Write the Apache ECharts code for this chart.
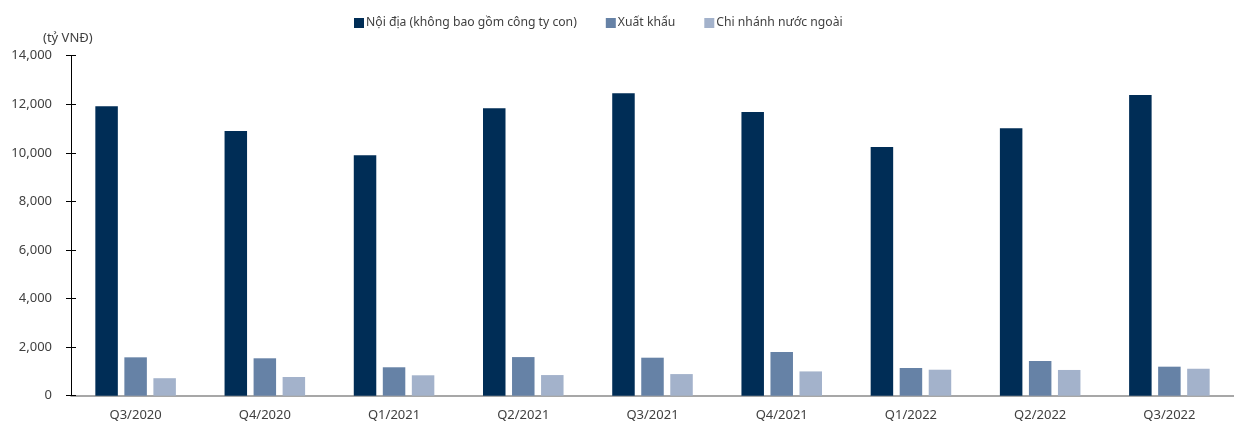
<!DOCTYPE html>
<html>
<head>
<meta charset="utf-8">
<title>Doanh thu theo thị trường</title>
<script src="https://cdn.jsdelivr.net/npm/echarts@6/dist/echarts.min.js"></script>
<style>
    html,body{margin:0;padding:0;background:#fff;}
    #chart{width:1234px;height:423px;}
</style>
</head>
<body>
<div id="chart"></div>
<script>
// số liệu theo quý (tỷ VNĐ)
var quarters = ['Q3/2020','Q4/2020','Q1/2021','Q2/2021','Q3/2021','Q4/2021','Q1/2022','Q2/2022','Q3/2022'];
var noiDia = [11920,10900,9900,11840,12450,11680,10240,11010,12380];
var xuatKhau = [1580,1540,1170,1590,1565,1800,1140,1430,1195];
var chiNhanh = [720,770,840,850,890,1000,1070,1060,1110];
var yTicks = [0,2000,4000,6000,8000,10000,12000,14000];

var seriesNames = ['Nội địa (không bao gồm công ty con)','Xuất khẩu','Chi nhánh nước ngoài'];
var colors = ['#002d56','#6682a6','#a3b2cb'];
var font = 'Noto Sans';

var chart = echarts.init(document.getElementById('chart'));

function fmt(v){
    return v.toString().replace(/\B(?=(\d{3})+(?!\d))/g, ',');
}

var yMin = yTicks[0], yMax = yTicks[yTicks.length-1], yStep = yTicks[1]-yTicks[0];

var option = {
    animation:false,
    color:colors,
    textStyle:{fontFamily:font},
    title:{
        text:'(tỷ VNĐ)',
        left:38,
        top:27,
        textStyle:{fontFamily:font,fontSize:13,fontWeight:'normal',color:'#404040'}
    },
    legend:{
        left:349,
        top:12,
        itemWidth:10,
        itemHeight:10,
        itemGap:29,
        icon:'rect',
        textStyle:{fontFamily:font,fontSize:12.2,color:'#404040',padding:[0,0,0,-3]},
        data:seriesNames
    },
    grid:{left:71,right:-12,top:55.7,bottom:27.3,containLabel:false},
    xAxis:{
        type:'category',
        data:quarters,
        axisLine:{lineStyle:{color:'#8a8a8a',width:1.5}},
        axisTick:{inside:true,length:4,lineStyle:{color:'#333'}},
        axisLabel:{fontFamily:font,fontSize:13,color:'#404040',margin:13}
    },
    yAxis:[{
        type:'value',
        min:yMin,max:yMax,interval:yStep,
        axisLine:{show:true,lineStyle:{color:'#000',width:1}},
        axisTick:{show:true,length:5,lineStyle:{color:'#000'}},
        splitLine:{show:false},
        axisLabel:{fontFamily:font,fontSize:13,color:'#404040',margin:19,formatter:fmt}
    },{
        // vạch chia phía trong trục tung
        type:'value',
        position:'left',
        min:yMin,max:yMax,interval:yStep,
        axisLine:{show:false},
        axisTick:{show:true,inside:true,length:5,lineStyle:{color:'#000'}},
        splitLine:{show:false},
        axisLabel:{show:false}
    }],
    series:[
        {name:seriesNames[0],type:'bar',data:noiDia,barWidth:22.5,barGap:'29%'},
        {name:seriesNames[1],type:'bar',data:xuatKhau,barWidth:22.5,barGap:'29%'},
        {name:seriesNames[2],type:'bar',data:chiNhanh,barWidth:22.5,barGap:'29%'}
    ]
};

chart.setOption(option);
</script>
</body>
</html>
